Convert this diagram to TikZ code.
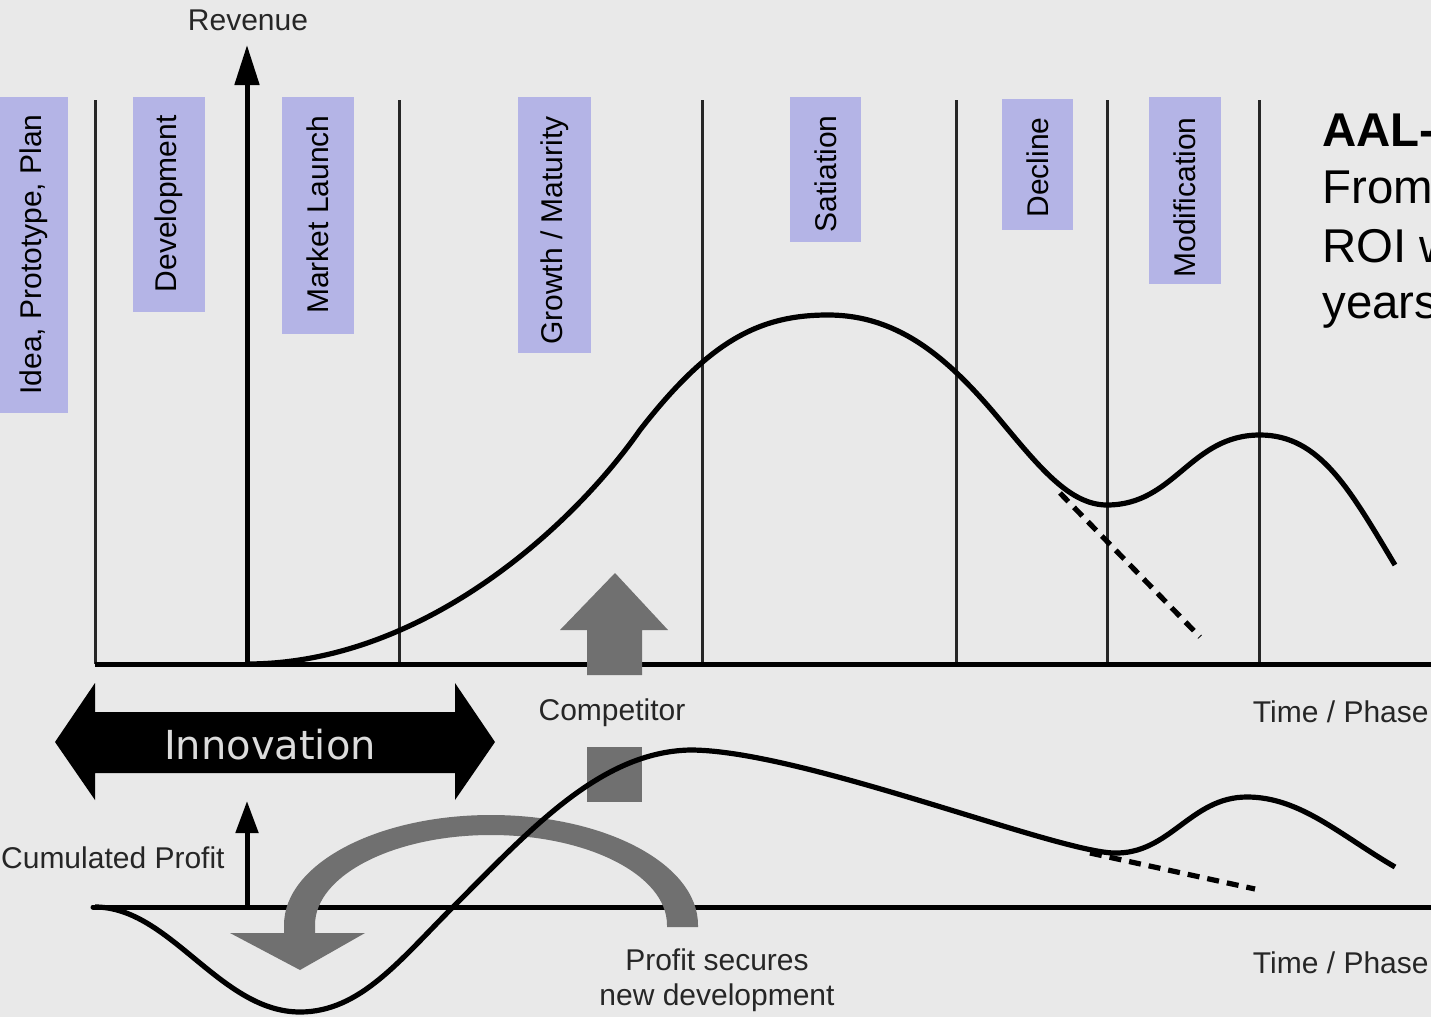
\documentclass[tikz,border=0pt]{standalone}
\usepackage{fontspec}
\setmainfont{Liberation Sans}
\newfontfamily\innofont{DejaVu Sans}
\usetikzlibrary{arrows.meta}
\definecolor{bg}{RGB}{233,233,233}
\definecolor{phasebox}{RGB}{180,180,230}
\definecolor{arrgray}{RGB}{112,112,112}
\definecolor{innotext}{RGB}{220,220,220}
\begin{document}
\begin{tikzpicture}[x=0.5pt,y=-0.5pt,
  lbl/.style={font=\fontsize{15}{17.5}\selectfont, inner sep=0pt, text=black!85},
  phasebg/.style={fill=phasebox, draw=none},
  phasetext/.style={font=\fontsize{15}{18}\selectfont, rotate=90, anchor=east, inner sep=0pt, text=black},
  vline/.style={line width=1.5pt, draw=black!85},
  axisline/.style={line width=2.5pt},
  curveline/.style={line width=2.6pt},
  dashcurve/.style={line width=2.6pt, dash pattern=on 6pt off 4pt},
  bigtext/.style={font=\fontsize{23.7}{28}\selectfont, inner sep=0pt, anchor=base west},
]
\fill[bg] (0,0) rectangle (1431,1017);
\useasboundingbox (0,0) rectangle (1431,1017);
\clip (0,0) rectangle (1431,1017);

% phase boxes
\fill[phasebg] (0,97) rectangle (68,413);
\fill[phasebg] (133,97) rectangle (205,312);
\fill[phasebg] (282,97) rectangle (354,334);
\fill[phasebg] (518,97) rectangle (591,353);
\fill[phasebg] (790,97) rectangle (861,242);
\fill[phasebg] (1002,99) rectangle (1073,230);
\fill[phasebg] (1149,97) rectangle (1221,284);
\node[phasetext] (p1) at (34,114) {Idea, Prototype, Plan};
\node[phasetext] (p2) at (169,115) {Development};
\node[phasetext] (p3) at (318,115) {Market Launch};
\node[phasetext] (p4) at (554.5,116) {Growth / Maturity};
\node[phasetext] (p5) at (825.5,115) {Satiation};
\node[phasetext] (p6) at (1037.5,117) {Decline};
\node[phasetext] (p7) at (1185,117) {Modification};

% vertical phase lines
\foreach \xx in {95,399,702,956,1107,1259}
  \draw[vline] (\xx,100) -- (\xx,664);

% axes
\draw[axisline] (95,664) -- (1431,664);
\draw[axisline, line cap=round] (93,907) -- (1431,907);
\draw[axisline, -{Triangle[length=20pt,width=12pt]}] (247,664) -- (247,45);
\draw[axisline, -{Triangle[length=16pt,width=11pt]}] (247,907) -- (247,801);

% labels
\node[lbl] (rev) at (248,20) {Revenue};
\node[lbl] (comp) at (612,713) {Competitor};
\node[lbl, anchor=east] (tp1) at (1429,712) {Time / Phase};
\node[lbl, anchor=east] (tp2) at (1429,963) {Time / Phase};
\node[lbl, anchor=east] (cp) at (225,858) {Cumulated Profit};
\node[lbl, align=center] (psec) at (717,980) {Profit secures\\new development};

% top right text
\node[bigtext, font=\bfseries\fontsize{23.7}{28}\selectfont] (aal) at (1322,146) {AAL-};
\node[bigtext] (t1) at (1322,203) {From};
\node[bigtext] (t2) at (1322,262) {ROI w};
\node[bigtext] (t3) at (1322,318) {years};

% innovation arrow
\fill[black] (55,742) -- (95,683) -- (95,712) -- (455,712) -- (455,683) -- (495,742)
  -- (455,800) -- (455,773) -- (95,773) -- (95,800) -- cycle;
\node[font=\innofont\fontsize{20}{24}\selectfont, text=innotext, inner sep=0pt] (inno) at (270,745) {Innovation};

% competitor arrow and square
\fill[arrgray] (587,675) -- (587,630) -- (560,630) -- (615,573) -- (668,630) -- (642,630) -- (642,675) -- cycle;
\fill[arrgray] (587,747) rectangle (642,802);

% big curved arrow
\fill[arrgray] (698,925) arc[start angle=0, end angle=-180, x radius=207, y radius=110]
  -- (284,933) -- (230,933) -- (300,970) -- (365,933) -- (315,933) -- (315,925)
  arc[start angle=-180, end angle=0, x radius=176, y radius=90]
  -- (667,927) -- (698,927) -- cycle;

% revenue curve
\draw[curveline] (247,664) .. controls (420,664) and (570,530) .. (640,430)
  .. controls (710,340) and (760,315) .. (828,315)
  .. controls (900,315) and (950,360) .. (1000,420)
  .. controls (1040,468) and (1070,505) .. (1107,505)
  .. controls (1175,505) and (1190,435) .. (1260,435)
  .. controls (1320,435) and (1350,490) .. (1395,565);
\draw[dashcurve] (1060,493) -- (1200,637);

% profit curve
\draw[curveline] (95,907) .. controls (170,907) and (220,1012) .. (300,1012)
  .. controls (360,1012) and (400,960) .. (453,907)
  .. controls (530,830) and (600,752) .. (690,750)
  .. controls (800,750) and (1050,850) .. (1113,853)
  .. controls (1170,855) and (1190,797) .. (1247,797)
  .. controls (1300,797) and (1340,835) .. (1395,867);
\draw[dashcurve] (1090,853) -- (1255,889);
\end{tikzpicture}
\end{document}
